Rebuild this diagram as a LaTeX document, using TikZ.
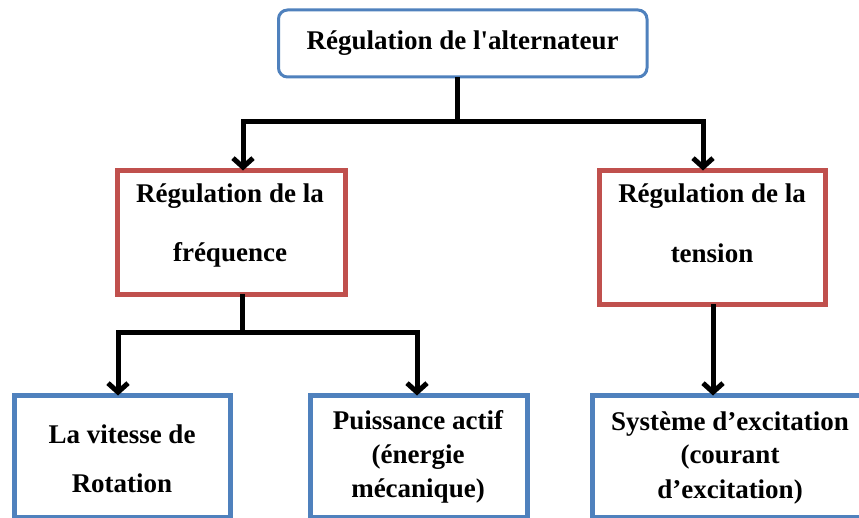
\documentclass[tikz,border=0pt]{standalone}
\usepackage{fontspec}
\setmainfont{Liberation Serif}
\usetikzlibrary{arrows.meta}
\definecolor{boxblue}{HTML}{4F81BD}
\definecolor{boxred}{HTML}{C0504D}
\begin{document}
\begin{tikzpicture}[x=1pt,y=-1pt,
  boxbase/.style={draw,rectangle,inner sep=0pt,outer sep=0pt,fill=white},
  topbox/.style={boxbase,draw=boxblue,line width=3pt,rounded corners=9pt},
  redbox/.style={boxbase,draw=boxred,line width=5pt},
  bluebox/.style={boxbase,draw=boxblue,line width=5pt},
  txt/.style={anchor=base,inner sep=0pt,font=\fontsize{27}{32}\selectfont\bfseries},
  conn/.style={draw=black,line width=5pt},
  arr/.style={conn,-{Straight Barb[length=9pt,width=20pt]}}]
\useasboundingbox (0,0) rectangle (859,518);
\clip (0,0) rectangle (859,518);
% boxes
\node[topbox,minimum width=368.5pt,minimum height=67pt] (top) at (462.75,43.5) {};
\node[redbox,minimum width=228pt,minimum height=124pt] (redL) at (231.5,232.5) {};
\node[redbox,minimum width=226pt,minimum height=134pt] (redR) at (712.5,237.5) {};
\node[bluebox,minimum width=216pt,minimum height=122pt] (blueL) at (122.5,456.5) {};
\node[bluebox,minimum width=217pt,minimum height=122pt] (blueM) at (419,456.5) {};
\node[bluebox,minimum width=277.5pt,minimum height=122pt] (blueR) at (731.25,456.5) {};
% texts
\node[txt] (t0) at (462.5,50) {Régulation de l\textquotesingle alternateur};
\node[txt] (t1a) at (230,203) {Régulation de la};
\node[txt] (t1b) at (230,262) {fréquence};
\node[txt] (t2a) at (712,203) {Régulation de la};
\node[txt] (t2b) at (712,263) {tension};
\node[txt] (t3a) at (122,443) {La vitesse de};
\node[txt] (t3b) at (122,492) {Rotation};
\node[txt] (t4a) at (418,429) {Puissance actif};
\node[txt] (t4b) at (418,463) {(énergie};
\node[txt] (t4c) at (418,497) {mécanique)};
\node[txt] (t5a) at (730,430) {Système d’excitation};
\node[txt] (t5b) at (730,463) {(courant};
\node[txt] (t5c) at (730,498) {d’excitation)};
% connectors
\coordinate (j1) at (457,122);
\coordinate (aL) at (243,122);
\coordinate (aR) at (703,122);
\draw[conn] (top.south -| j1) -- (j1);
\draw[arr] (j1) -| (redL.north -| aL);
\draw[arr] (j1) -| (redR.north -| aR);
\coordinate (j2) at (242,333);
\coordinate (bL) at (118,333);
\coordinate (bM) at (417,333);
\draw[conn] (redL.south -| j2) -- (j2);
\draw[arr] (j2) -| (blueL.north -| bL);
\draw[arr] (j2) -| (blueM.north -| bM);
\coordinate (bR) at (713,333);
\draw[arr] (redR.south -| bR) -- (blueR.north -| bR);
\end{tikzpicture}
\end{document}
